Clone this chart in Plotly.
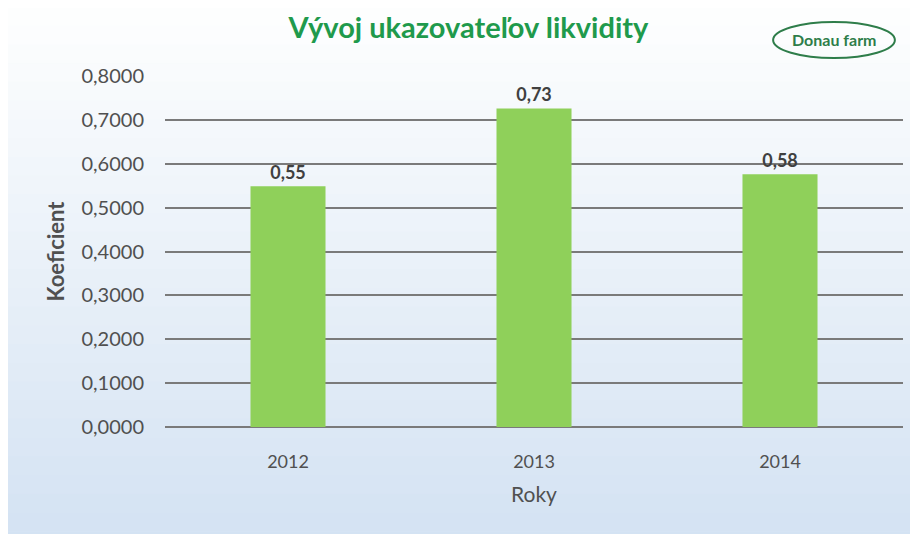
import plotly.graph_objects as go

years = ["2012", "2013", "2014"]
values = [0.549, 0.726, 0.576]
y_ticks = [0.0, 0.1, 0.2, 0.3, 0.4, 0.5, 0.6, 0.7, 0.8]

FONT = "Lato, Open Sans, sans-serif"
GRAY = "#505050"

fig = go.Figure()
fig.add_trace(go.Bar(
    x=years, y=values,
    marker=dict(color="#8fd05a", line=dict(width=0)),
    width=0.305,
    text=values, texttemplate="<b>%{y:.2f}</b>", textposition="outside",
    textfont=dict(family=FONT, size=18, color="#404040"),
    cliponaxis=False,
))

# background gradient (white top -> light blue bottom)
shapes = []
n = 30
y_top, y_bot = 1.25, -0.35
step = (y_top - y_bot) / n
for i in range(n):
    t = i / (n - 1)
    r = int(255 - t * (255 - 212))
    g = int(255 - t * (255 - 227))
    b = int(255 - t * (255 - 243))
    shapes.append(dict(type="rect", xref="paper", yref="paper",
                       x0=-0.3, x1=1.05, y0=y_top - (i + 1) * step - 0.002, y1=y_top - i * step,
                       fillcolor=f"rgb({r},{g},{b})", line=dict(width=0), layer="below"))
# logo ellipse
shapes.append(dict(type="circle", xref="paper", yref="paper",
                   x0=0.824, x1=0.989, y0=1.051, y1=1.154,
                   line=dict(color="#2e7d4a", width=2), layer="above"))
fig.update_layout(shapes=shapes)

fig.update_layout(
    width=910, height=526,
    margin=dict(l=157, r=15, t=68, b=107, autoexpand=False),
    separators=", ",
    paper_bgcolor="#eef3fa", plot_bgcolor="rgba(0,0,0,0)",
    showlegend=False,
    title=dict(text="<b>Vývoj ukazovateľov likvidity</b>", x=0.506, xanchor="center",
               y=0.962, yanchor="middle", yref="container", xref="container",
               font=dict(family=FONT, size=29, color="#1f9a4c")),
    xaxis=dict(showgrid=False, showline=False, ticks="", automargin=False,
               ticklabelstandoff=22,
               tickfont=dict(family=FONT, size=18, color=GRAY),
               title=dict(text="Roky", standoff=16,
                          font=dict(family=FONT, size=21, color=GRAY))),
    yaxis=dict(range=[0, 0.8], tickvals=y_ticks, tickformat=".4f", automargin=False,
               showgrid=True, gridcolor="#7a7a7a", gridwidth=1.5,
               zeroline=True, zerolinecolor="#7a7a7a", zerolinewidth=1.5,
               showline=False, ticks="", ticklabelstandoff=20,
               tickfont=dict(family=FONT, size=20, color=GRAY),
               title=dict(text="<b>Koeficient</b>", standoff=10,
                          font=dict(family=FONT, size=22, color=GRAY))),
    annotations=[dict(text="<b>Donau farm</b>", xref="paper", yref="paper", x=0.907, y=1.103,
                      xanchor="center", yanchor="middle",
                      showarrow=False, font=dict(family=FONT, size=16, color="#2e7d4a"))],
)

fig.write_html("out.html")
